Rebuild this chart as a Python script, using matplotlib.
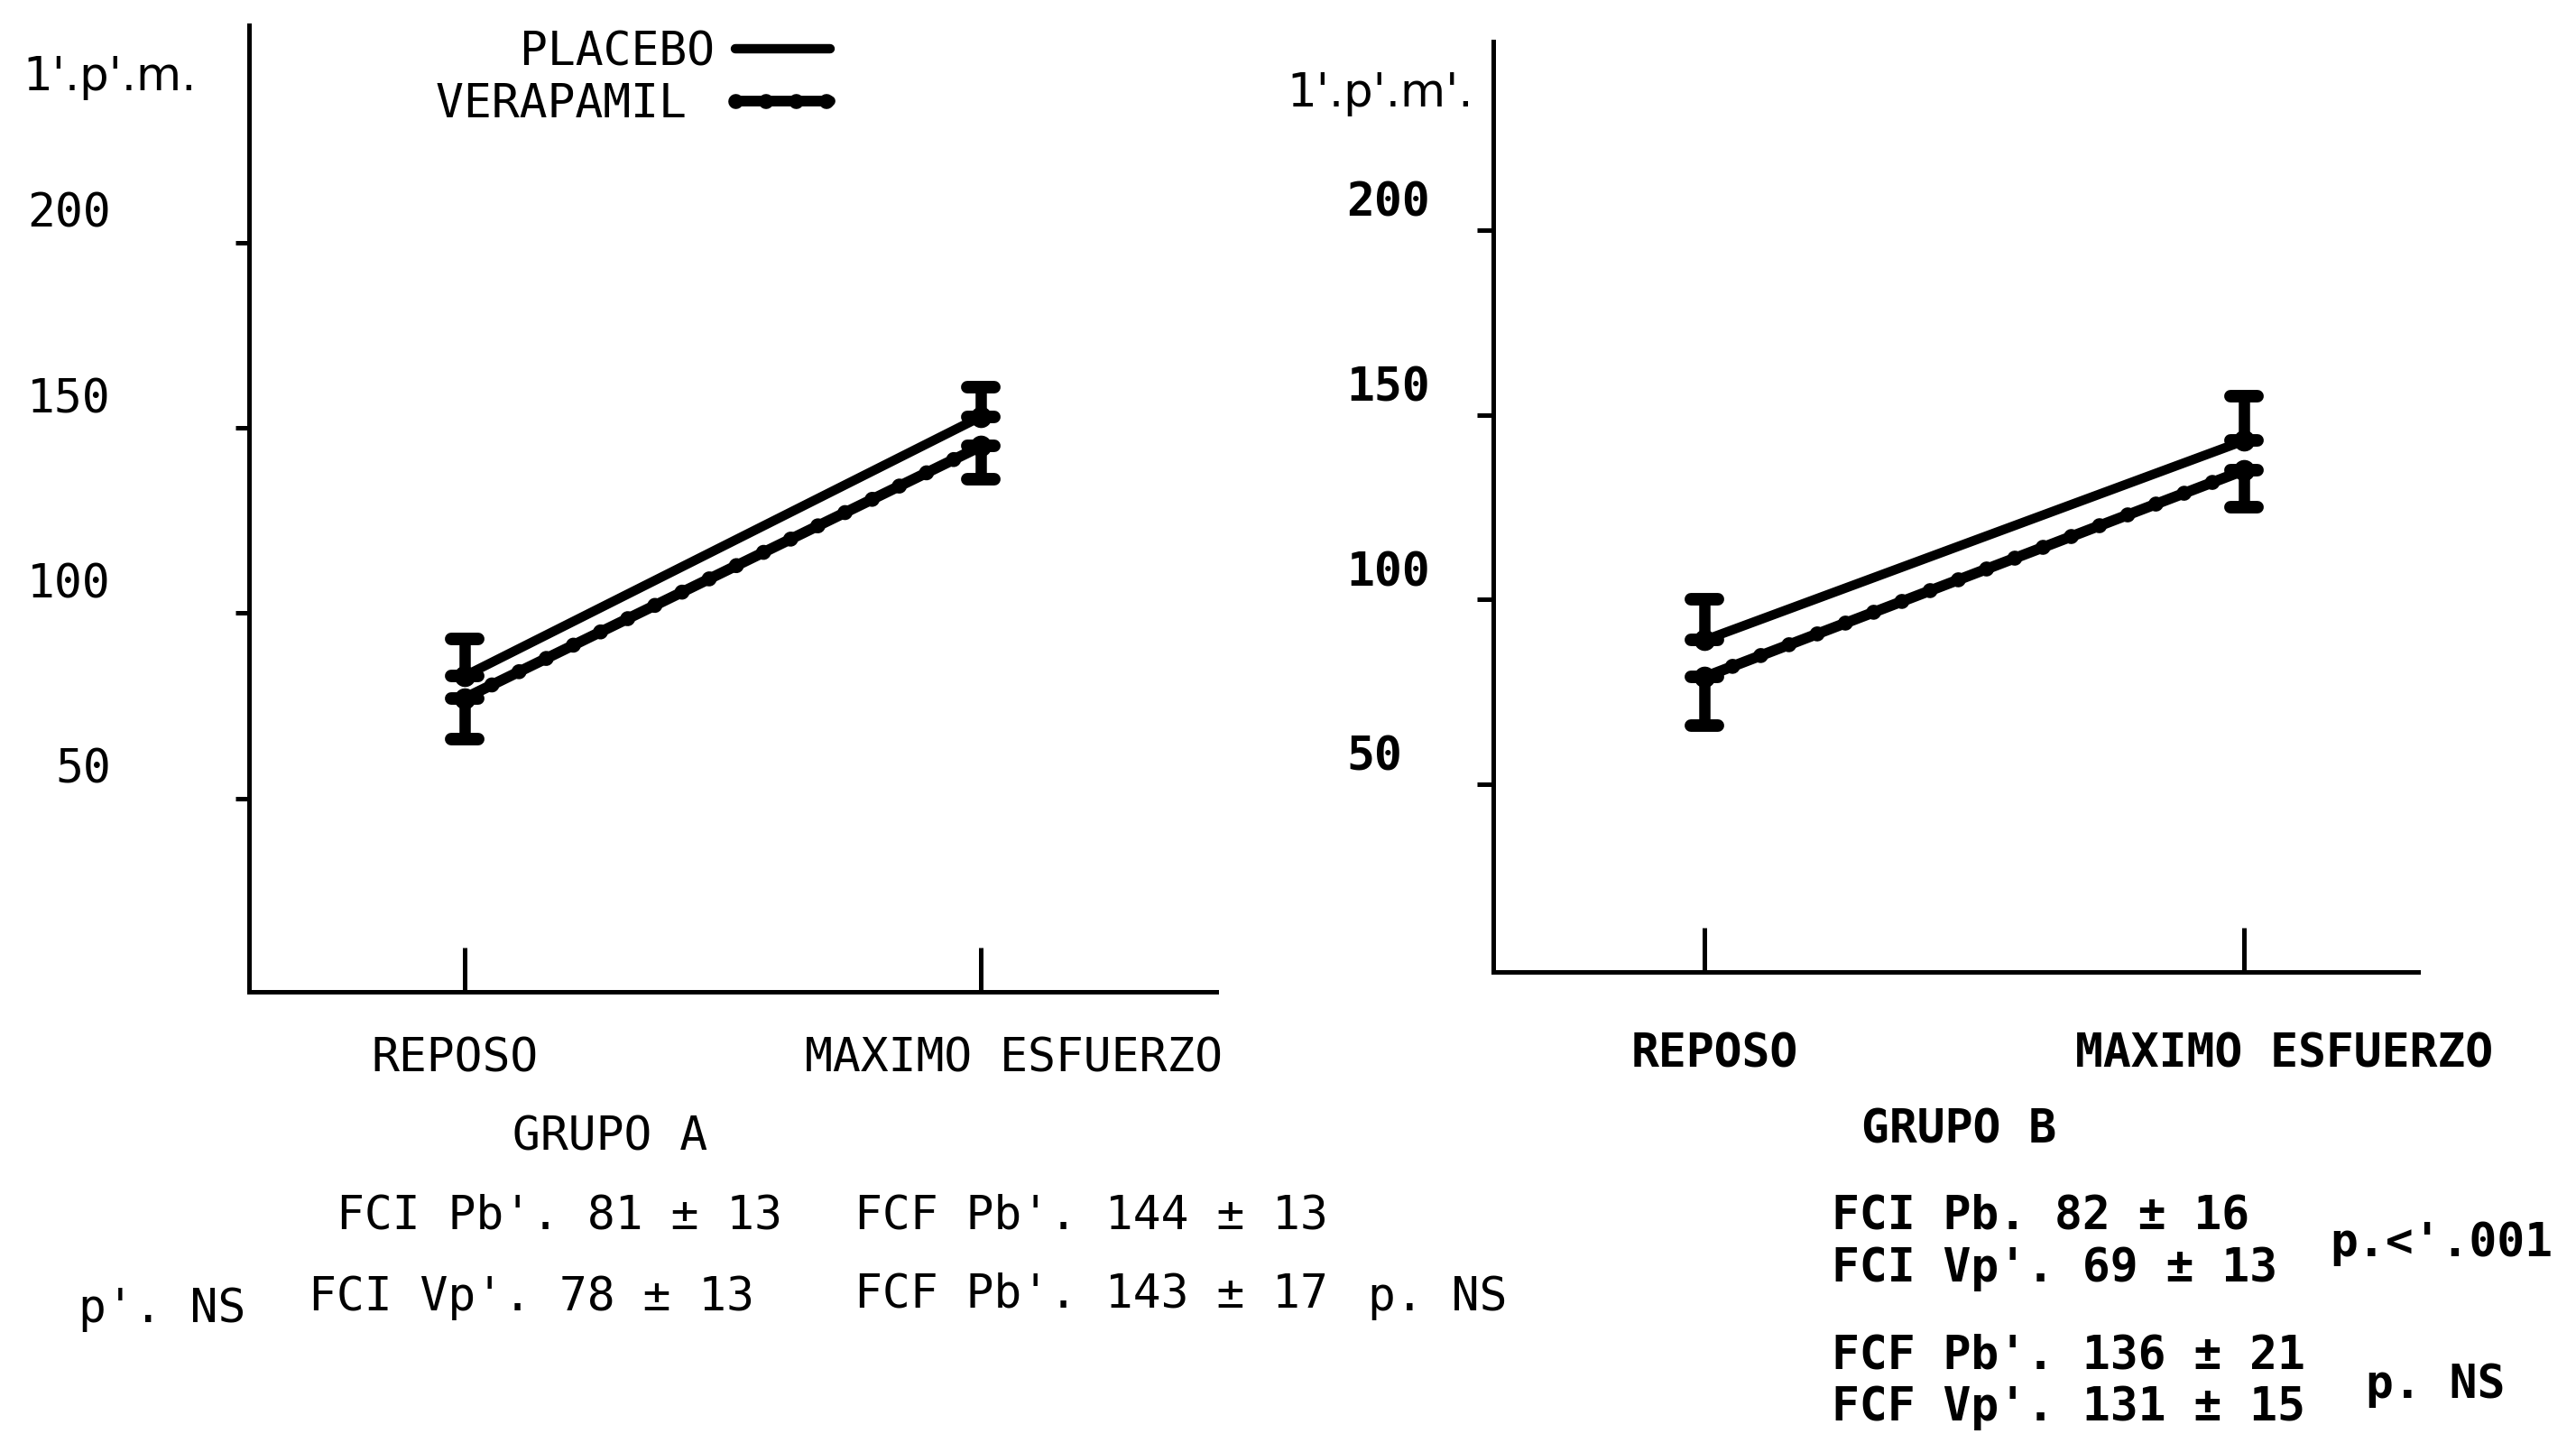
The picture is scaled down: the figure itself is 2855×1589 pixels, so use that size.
import matplotlib
matplotlib.use("Agg")
import matplotlib.pyplot as plt
from matplotlib.markers import MarkerStyle
from matplotlib.transforms import ScaledTranslation

# --- data (l.p.m.) ---
categories = ["REPOSO", "MAXIMO ESFUERZO"]
yticks = [50, 100, 150, 200]

# grupo A
a_placebo = [83, 153]
a_placebo_err = [10, 8]
a_verapamil = [77, 145]
a_verapamil_err = [11, 9]

# grupo B
b_placebo = [89, 143]
b_placebo_err = [11, 12]
b_verapamil = [79, 135]
b_verapamil_err = [13, 10]

plt.rcParams['font.family'] = ['DejaVu Sans Mono', 'DejaVu Sans']
FS = 37
LW_AX = 3.6


def draw_group(ax, placebo, placebo_err, verap, verap_err):
    x = list(range(len(categories)))
    zeros = [0] * len(x)
    pl_line, = ax.plot(x, placebo, color='black', lw=7.5, solid_capstyle='round', zorder=3)
    vp_line, = ax.plot(x, verap, color='black', lw=8.5, solid_capstyle='round', zorder=3)
    vp_dots, = ax.plot(x, verap, color='black', lw=12, linestyle=(0, (0.01, 2.0)),
                       dash_capstyle='round', zorder=3)
    ax.plot(x, placebo, 'o', color='black', ms=16, zorder=4)
    ax.plot(x, verap, 'o', color='black', ms=16, zorder=4)
    eb1 = ax.errorbar(x, placebo, yerr=[zeros, placebo_err], fmt='none', ecolor='black',
                      elinewidth=9, capsize=11, capthick=10, zorder=4)
    eb2 = ax.errorbar(x, verap, yerr=[verap_err, zeros], fmt='none', ecolor='black',
                      elinewidth=9, capsize=11, capthick=10, zorder=4)
    for eb in (eb1, eb2):
        for cap in eb[1]:
            cap.set_marker(MarkerStyle('_', capstyle='round'))
    for s in ('top', 'right'):
        ax.spines[s].set_visible(False)
    for s in ('left', 'bottom'):
        ax.spines[s].set_linewidth(LW_AX)
    ax.set_xticks(x, categories)
    ax.set_yticks(yticks)
    return pl_line, vp_line, vp_dots


def shift(label, dx, dy):
    label.set_transform(label.get_transform() + ScaledTranslation(dx / 72, dy / 72, fig.dpi_scale_trans))


fig = plt.figure(figsize=(28.55, 15.89), dpi=100)
axA = fig.add_axes([0.0968, 0.3084, 0.4722 - 0.0968, 0.9824 - 0.3084])
axB = fig.add_axes([0.5797, 0.3222, 0.9387 - 0.5797, 0.9713 - 0.3222])

pl_line, vp_line, vp_dots = draw_group(axA, a_placebo, a_placebo_err, a_verapamil, a_verapamil_err)
draw_group(axB, b_placebo, b_placebo_err, b_verapamil, b_verapamil_err)

axA.set_xlim(-0.417, 1.456)
axA.set_ylim(-2.2, 258.6)
axB.set_xlim(-0.391, 1.323)
axB.set_ylim(-0.8, 251.2)

# left panel: thin type, labels right aligned
axA.tick_params(axis='x', direction='in', length=35, width=LW_AX, pad=36, labelsize=FS)
axA.tick_params(axis='y', direction='out', length=10.5, width=LW_AX, pad=100, labelsize=FS)
for lab in axA.get_yticklabels():
    shift(lab, 0, 26)
xl = axA.get_xticklabels()
shift(xl[0], -8, 0)
shift(xl[1], 26, 0)

# right panel: heavier type, labels left aligned
axB.tick_params(axis='x', direction='in', length=35, width=LW_AX, pad=48, labelsize=FS)
axB.tick_params(axis='y', direction='out', length=13, width=LW_AX, pad=104, labelsize=FS)
for lab in axB.get_yticklabels():
    lab.set_horizontalalignment('left')
    shift(lab, 0, 25)
xl = axB.get_xticklabels()
shift(xl[0], 8, 0)
shift(xl[1], 32, 0)
for lab in axB.get_yticklabels() + axB.get_xticklabels():
    lab.set_fontweight('bold')

fig.legend([pl_line, (vp_line, vp_dots)], ['PLACEBO', 'VERAPAMIL '],
           loc='upper right', bbox_to_anchor=(0.3224, 0.979), frameon=False,
           markerfirst=False, handlelength=2.05, handletextpad=0.45,
           labelspacing=0.15, borderpad=0, borderaxespad=0, fontsize=FS)

# units
fig.text(0.0088, 0.946, "1'.p'.m.", family='DejaVu Sans', fontsize=FS, va='center')
fig.text(0.4995, 0.9346, "1'.p'.m'.", family='DejaVu Sans', fontsize=FS, va='center')

# grupo A notes
fig.text(0.199, 0.207, "GRUPO A", fontsize=FS, va='center')
fig.text(0.1307, 0.152, "FCI Pb'. 81 ± 13", fontsize=FS, va='center')
fig.text(0.3317, 0.152, "FCF Pb'. 144 ± 13", fontsize=FS, va='center')
fig.text(0.0306, 0.087, "p'. NS", fontsize=FS, va='center')
fig.text(0.1199, 0.095, "FCI Vp'. 78 ± 13", fontsize=FS, va='center')
fig.text(0.3317, 0.097, "FCF Pb'. 143 ± 17", fontsize=FS, va='center')
fig.text(0.531, 0.095, "p. NS", fontsize=FS, va='center')

# grupo B notes
fig.text(0.7226, 0.2116, "GRUPO B", fontsize=FS, va='center', fontweight='bold')
fig.text(0.711, 0.152, "FCI Pb. 82 ± 16", fontsize=FS, va='center', fontweight='bold')
fig.text(0.711, 0.115, "FCI Vp'. 69 ± 13", fontsize=FS, va='center', fontweight='bold')
fig.text(0.9044, 0.1327, "p.<'.001", fontsize=FS, va='center', fontweight='bold')
fig.text(0.711, 0.0547, "FCF Pb'. 136 ± 21", fontsize=FS, va='center', fontweight='bold')
fig.text(0.711, 0.018, "FCF Vp'. 131 ± 15", fontsize=FS, va='center', fontweight='bold')
fig.text(0.9184, 0.034, "p. NS", fontsize=FS, va='center', fontweight='bold')

fig.savefig("out.png", dpi=100, facecolor='white')
